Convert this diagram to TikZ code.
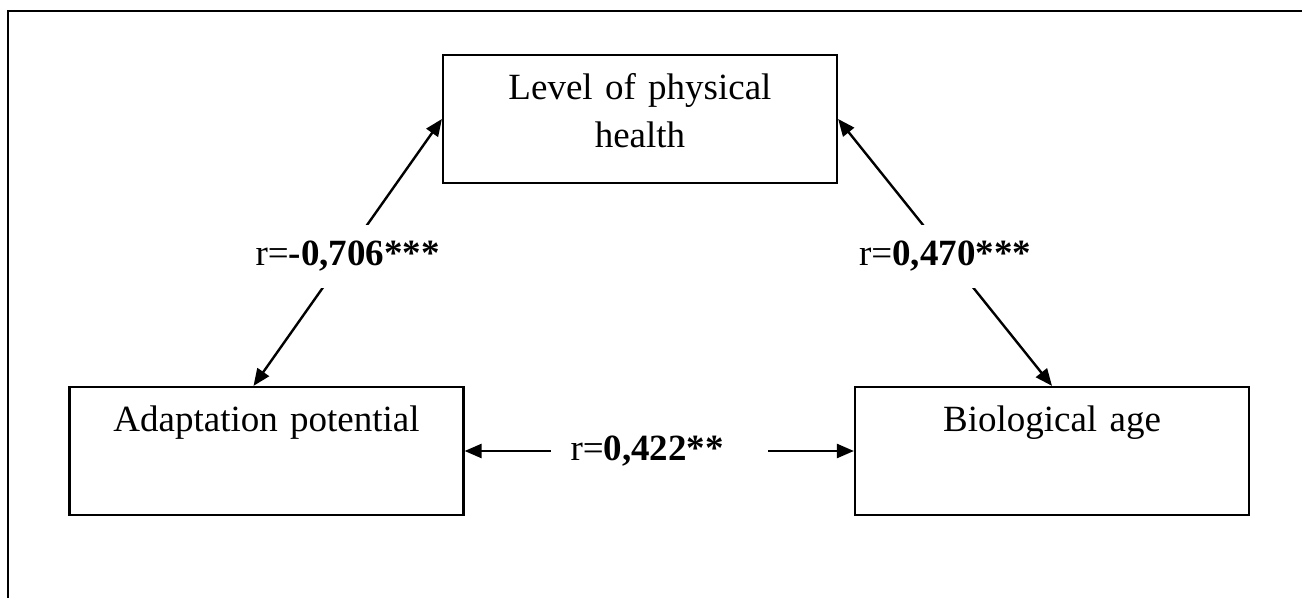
\documentclass[tikz,border=0pt]{standalone}
\usepackage{fontspec}
\setmainfont{Liberation Serif}
\usetikzlibrary{arrows.meta}
\begin{document}
\begin{tikzpicture}[x=0.5pt,y=-0.5pt,line width=1.2pt,
	box/.style={draw,line width=1.1pt,inner sep=0pt,text width=197pt,align=center,text height=22.5pt,text depth=41.5pt,font=\fontsize{18.5}{24}\selectfont},
	lbl/.style={fill=white,inner xsep=10pt,inner ysep=8pt,font=\fontsize{18.5}{24}\selectfont},
	>={Triangle[length=8.5pt,width=7pt]}]
	\useasboundingbox (0,0) rectangle (1302,598);
	\draw (8,598) -- (8,11) -- (1302,11);
	\node[box] (health) at (640,119) {Level of physical\\health}; \node[box] (adapt) at (266.5,451) {Adaptation potential}; \node[box] (age) at (1052,451) {Biological age};
	\draw[<->] (health.west) --node[lbl,yshift=-2pt]{r=\textbf{-0,706***}} ([xshift=-6.5pt]adapt.north);
	\draw[<->] (health.east) --node[lbl,yshift=-2pt]{r=\textbf{0,470***}} (age.north);
	\draw[<->] (adapt.east) --node[lbl]{r=\textbf{0,422**}\kern12pt} (age.west);
\end{tikzpicture}
\end{document}
